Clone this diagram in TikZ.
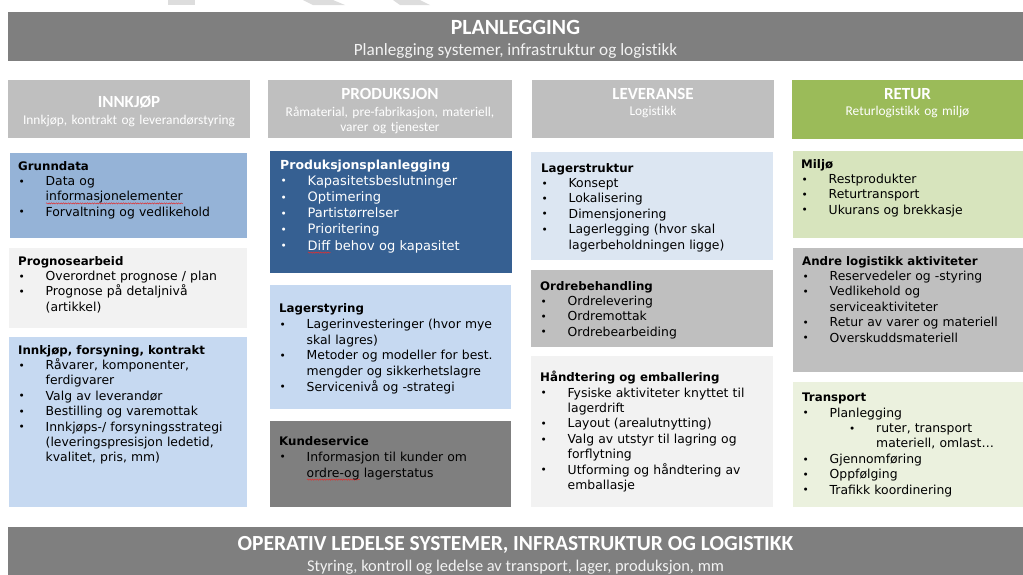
\documentclass[tikz,border=0pt]{standalone}
\usepackage{fontspec}
\usetikzlibrary{positioning,decorations.pathmorphing}

\newfontfamily\bodyfont{DejaVu Sans}
\newfontfamily\headfont{Carlito}[Ligatures=NoCommon]

\definecolor{bandgray}{HTML}{7F7F7F}
\definecolor{headgray}{HTML}{BFBFBF}
\definecolor{returgreen}{HTML}{9BBB59}
\definecolor{midblue}{HTML}{95B3D7}
\definecolor{paleblue}{HTML}{C6D9F1}
\definecolor{iceblue}{HTML}{DCE6F2}
\definecolor{darkblue}{HTML}{366092}
\definecolor{palegray}{HTML}{F2F2F2}
\definecolor{midgray}{HTML}{BFBFBF}
\definecolor{palegreen}{HTML}{D7E4BD}
\definecolor{icegreen}{HTML}{EBF1DE}
\definecolor{watermark}{HTML}{DDDDDD}
\definecolor{typored}{HTML}{E03030}

\newlength\typowd
\newcommand\typo[1]{\settowidth\typowd{#1}\rlap{\tikz[baseline=0pt]\draw[typored,line width=0.5pt,decorate,decoration={snake,amplitude=0.6pt,segment length=2.4pt}] (0pt,-2.6pt) -- (\typowd,-2.6pt);}#1}
\newcommand\ttl[2][11.8]{{\bfseries\fontsize{#1}{\the\baselineskip}\selectfont #2\par}}
\newcommand\itm[1]{\par\hangindent=27.5pt\hangafter=1\noindent\makebox[27.5pt][l]{\hspace{0.5pt}\raisebox{0.3pt}{\fontsize{10.5}{10}\selectfont •}}#1\par}
\newcommand\subitm[1]{\par\hangindent=74pt\hangafter=1\noindent\makebox[74pt][l]{\hspace{47pt}\raisebox{0.3pt}{\fontsize{10.5}{10}\selectfont •}}#1\par}

\tikzset{
  panel/.style={anchor=north west, inner sep=0pt, outer sep=0pt},
  paneltext/.style={anchor=base west, inner sep=0pt, text width=250pt, align=left,
    font=\bodyfont\fontsize{12.4}{15.4}\selectfont},
  bandtitle/.style={anchor=base, inner sep=0pt, text=white, font=\headfont\bfseries\fontsize{21.7}{24}\selectfont},
  bandsub/.style={anchor=base, inner sep=0pt, text=palegray, font=\headfont\fontsize{17.2}{20}\selectfont},
  headtitle/.style={anchor=base, inner sep=0pt, text=white, font=\headfont\bfseries\fontsize{17}{20}\selectfont},
  headsub/.style={anchor=base, inner sep=0pt, text=white, text width=240pt, align=center,
    font=\headfont\fontsize{13.4}{15.5}\selectfont},
}

\begin{document}
\begin{tikzpicture}[x=1pt,y=-1pt]
  \useasboundingbox (0,0) rectangle (1023,574);

  \fill[watermark] (168,0) rectangle (195,5);
  \fill[watermark] (303,0) -- (333,0) -- (345,5) -- (313,5) -- cycle;
  \fill[watermark] (393,0) -- (420,0) -- (430,5) -- (400,5) -- cycle;

  % planning band
  \node[panel, fill=bandgray, minimum width=1015pt, minimum height=49pt] (plan) at (8,12) {};
  \node[bandtitle] (plantitle) at ([yshift=-22pt]plan.north) {PLANLEGGING};
  \node[bandsub] (plansub) at ([yshift=-43.5pt]plan.north) {Planlegging systemer, infrastruktur og logistikk};

  % column heads
  \node[panel, fill=headgray, minimum width=242pt, minimum height=58pt] (innkjop) at (8,80) {};
  \node[headtitle] (innkjoptitle) at ([yshift=-27pt]innkjop.north) {INNKJØP};
  \node[headsub] (innkjopsub) at ([yshift=-44pt]innkjop.north) {Innkjøp, kontrakt og leverandørstyring};

  \node[panel, fill=headgray, minimum width=244pt, minimum height=58pt] (produksjon) at (268,80) {};
  \node[headtitle] (produksjontitle) at ([yshift=-19pt]produksjon.north) {PRODUKSJON};
  \node[headsub] (produksjonsub) at ([yshift=-36pt]produksjon.north) {Råmaterial, pre-fabrikasjon, materiell,\\varer og tjenester};

  \node[panel, fill=headgray, minimum width=242pt, minimum height=58pt] (leveranse) at (532,80) {};
  \node[headtitle] (leveransetitle) at ([yshift=-19pt]leveranse.north) {LEVERANSE};
  \node[headsub] (leveransesub) at ([yshift=-35pt]leveranse.north) {Logistikk};

  \node[panel, fill=returgreen, minimum width=231pt, minimum height=59pt] (retur) at (792,80) {};
  \node[headtitle] (returtitle) at ([yshift=-19pt]retur.north) {RETUR};
  \node[headsub] (retursub) at ([yshift=-35pt]retur.north) {Returlogistikk og miljø};

  % innkjop column
  \node[panel, fill=midblue, minimum width=237pt, minimum height=85pt] (grunndata) at (10,153) {};
  \node[paneltext] (grunndatatext) at ([shift={(8pt,-17pt)}]grunndata.north west)
    {\ttl{Grunndata}\itm{Data og\newline\typo{informasjonelementer}}\itm{Forvaltning og vedlikehold}};

  \node[panel, fill=palegray, minimum width=238pt, minimum height=80pt] (prognose) at (9,248) {};
  \node[paneltext] (prognosetext) at ([shift={(9pt,-17pt)}]prognose.north west)
    {\ttl{Prognosearbeid}\itm{Overordnet prognose / plan}\itm{Prognose på detaljnivå\newline(artikkel)}};

  \node[panel, fill=paleblue, minimum width=238pt, minimum height=170pt] (forsyning) at (9,337) {};
  \node[paneltext] (forsyningtext) at ([shift={(9pt,-17pt)}]forsyning.north west)
    {\ttl{Innkjøp, forsyning, kontrakt}\itm{Råvarer, komponenter,\newline ferdigvarer}\itm{Valg av leverandør}%
     \itm{Bestilling og varemottak}\itm{Innkjøps-/ forsyningsstrategi\newline(leveringspresisjon ledetid,\newline kvalitet, pris, mm)}};

  % produksjon column
  \node[panel, fill=darkblue, minimum width=242pt, minimum height=122pt] (prodplan) at (270,151) {};
  \node[paneltext, text=white, font=\bodyfont\fontsize{13}{16.2}\selectfont] (prodplantext)
    at ([shift={(10pt,-18pt)}]prodplan.north west)
    {\ttl[12.5]{Produksjonsplanlegging}\itm{Kapasitetsbeslutninger}\itm{Optimering}\itm{Partistørrelser}%
     \itm{Prioritering}\itm{\typo{Diff} behov og kapasitet}};

  \node[panel, fill=paleblue, minimum width=241pt, minimum height=124pt] (lagerstyring) at (270,285) {};
  \node[paneltext, font=\bodyfont\fontsize{12.4}{15.7}\selectfont] (lagerstyringtext)
    at ([shift={(9pt,-27.7pt)}]lagerstyring.north west)
    {\ttl{Lagerstyring}\itm{Lagerinvesteringer (hvor mye\newline skal lagres)}%
     \itm{Metoder og modeller for best.\newline mengder og sikkerhetslagre}\itm{Servicenivå og -strategi}};

  \node[panel, fill=bandgray, minimum width=241pt, minimum height=86pt] (kundeservice) at (270,421) {};
  \node[paneltext, font=\bodyfont\fontsize{12.4}{16}\selectfont] (kundeservicetext)
    at ([shift={(9pt,-24pt)}]kundeservice.north west)
    {\ttl{Kundeservice}\itm{Informasjon til kunder om\newline\typo{ordre-og} lagerstatus}};

  % leveranse column
  \node[panel, fill=iceblue, minimum width=242pt, minimum height=108pt] (lagerstruktur) at (531,152) {};
  \node[paneltext] (lagerstrukturtext) at ([shift={(10pt,-20pt)}]lagerstruktur.north west)
    {\ttl{Lagerstruktur}\itm{Konsept}\itm{Lokalisering}\itm{Dimensjonering}%
     \itm{Lagerlegging (hvor skal\newline lagerbeholdningen ligge)}};

  \node[panel, fill=midgray, minimum width=242pt, minimum height=77pt] (ordre) at (531,270) {};
  \node[paneltext] (ordretext) at ([shift={(9pt,-20pt)}]ordre.north west)
    {\ttl{Ordrebehandling}\itm{Ordrelevering}\itm{Ordremottak}\itm{Ordrebearbeiding}};

  \node[panel, fill=palegray, minimum width=242pt, minimum height=151pt] (handtering) at (531,356) {};
  \node[paneltext] (handteringtext) at ([shift={(9pt,-25.7pt)}]handtering.north west)
    {\ttl{Håndtering og emballering}\itm{Fysiske aktiviteter knyttet til\newline lagerdrift}%
     \itm{Layout (arealutnytting)}\itm{Valg av utstyr til lagring og\newline forflytning}%
     \itm{Utforming og håndtering av\newline emballasje}};

  % retur column
  \node[panel, fill=palegreen, minimum width=230pt, minimum height=87pt] (miljo) at (793,151) {};
  \node[paneltext] (miljotext) at ([shift={(8pt,-17pt)}]miljo.north west)
    {\ttl{Miljø}\itm{Restprodukter}\itm{Returtransport}\itm{Ukurans og brekkasje}};

  \node[panel, fill=midgray, minimum width=230pt, minimum height=124pt] (andre) at (793,248) {};
  \node[paneltext] (andretext) at ([shift={(9pt,-17pt)}]andre.north west)
    {\ttl{Andre logistikk aktiviteter}\itm{Reservedeler og -styring}\itm{Vedlikehold og\newline serviceaktiviteter}%
     \itm{Retur av varer og materiell}\itm{Overskuddsmateriell}};

  \node[panel, fill=icegreen, minimum width=230pt, minimum height=125pt] (transport) at (793,382) {};
  \node[paneltext] (transporttext) at ([shift={(9pt,-19.7pt)}]transport.north west)
    {\ttl{Transport}\itm{Planlegging}\subitm{ruter, transport\newline materiell, omlast…}%
     \itm{Gjennomføring}\itm{Oppfølging}\itm{Trafikk koordinering}};

  % operative band
  \node[panel, fill=bandgray, minimum width=1015pt, minimum height=50pt] (operativ) at (8,527) {};
  \node[bandtitle, font=\headfont\bfseries\fontsize{21.5}{24}\selectfont] (operativtitle)
    at ([yshift=-23pt]operativ.north) {OPERATIV LEDELSE SYSTEMER, INFRASTRUKTUR OG LOGISTIKK};
  \node[bandsub, font=\headfont\fontsize{16.4}{20}\selectfont] (operativsub)
    at ([yshift=-44pt]operativ.north) {Styring, kontroll og ledelse av transport, lager, produksjon, mm};
\end{tikzpicture}
\end{document}
